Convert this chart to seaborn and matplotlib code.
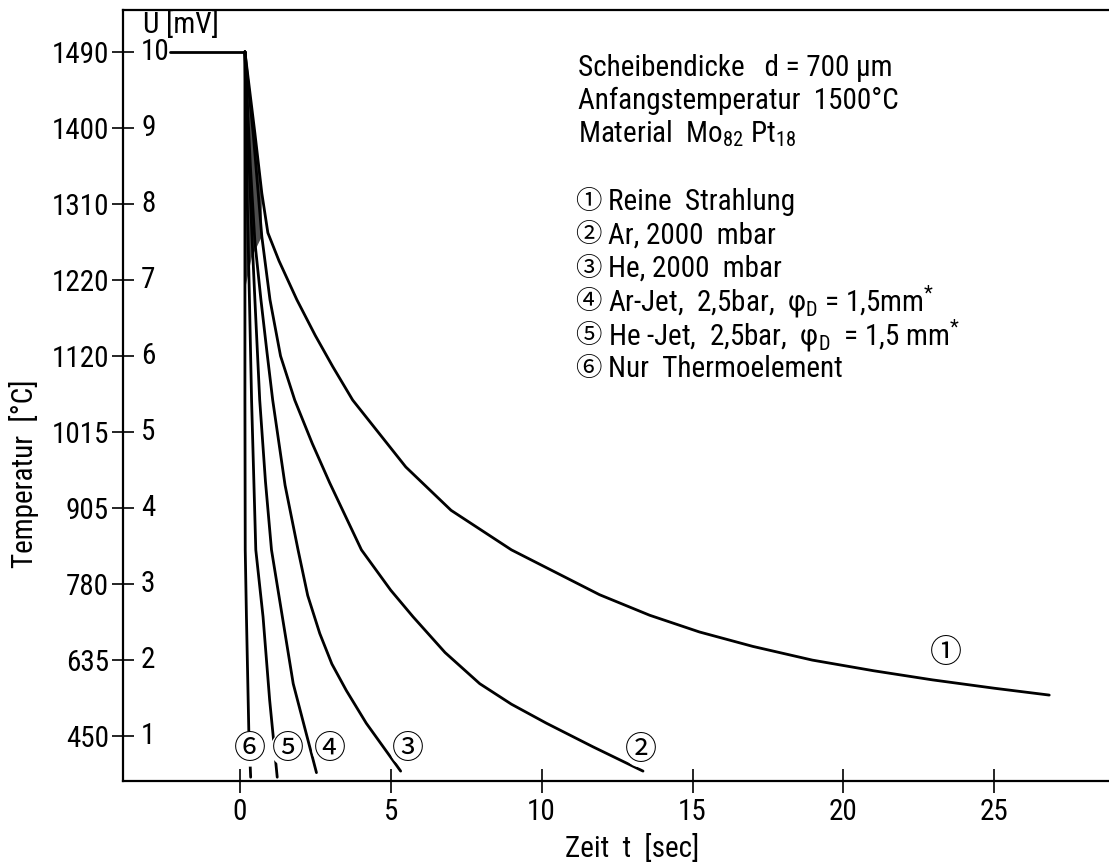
import numpy as np
import pandas as pd
import matplotlib
matplotlib.use("Agg")
import matplotlib.pyplot as plt
import seaborn as sns
from matplotlib import font_manager

# ---- data: thermocouple voltage U [mV] over time t [s] ----
plateau_t = [-2.32, 0.17]
plateau_mv = [10.0, 10.0]

curve1_t = [0.17, 0.50, 0.73, 0.93, 1.30, 1.89, 2.50, 3.08, 3.74, 5.50, 7.00, 9.00,
            11.92, 13.58, 15.23, 17.00, 18.97, 21.00, 22.95, 25.00, 26.82]
curve1_mv = [10.0, 8.93, 8.14, 7.62, 7.25, 6.74, 6.27, 5.86, 5.42, 4.54, 3.97, 3.45,
             2.86, 2.59, 2.37, 2.18, 2.00, 1.86, 1.74, 1.63, 1.54]

curve2_t = [0.17, 0.45, 0.73, 1.00, 1.35, 1.82, 2.40, 2.98, 4.03, 5.00, 5.74, 6.80,
            7.95, 9.00, 10.16, 11.70, 13.36]
curve2_mv = [10.0, 8.90, 7.57, 6.74, 6.00, 5.42, 4.85, 4.33, 3.45, 2.92, 2.57, 2.10,
             1.69, 1.42, 1.17, 0.86, 0.54]

curve3_t = [0.17, 0.35, 0.50, 0.70, 0.90, 1.09, 1.50, 1.93, 2.25, 2.65, 3.05, 3.53, 4.19, 5.33]
curve3_mv = [10.0, 8.50, 7.50, 6.74, 6.05, 5.42, 4.30, 3.45, 2.85, 2.35, 1.95, 1.60, 1.17, 0.54]

curve4_t = [0.17, 0.30, 0.40, 0.50, 0.66, 0.85, 1.05, 1.32, 1.77, 2.54]
curve4_mv = [10.0, 8.60, 7.60, 6.74, 5.42, 4.35, 3.45, 2.79, 1.69, 0.52]

curve5_t = [0.17, 0.25, 0.32, 0.39, 0.53, 0.77, 0.99, 1.24]
curve5_mv = [10.0, 8.00, 6.74, 5.42, 3.45, 2.57, 1.47, 0.46]

curve6_t = [0.17, 0.17, 0.17, 0.18, 0.22, 0.30, 0.36]
curve6_mv = [10.0, 7.57, 5.42, 3.45, 2.57, 1.04, 0.46]

# outline of the dense, shaded bundle just after the drop starts
wedge_t = [0.17, 0.17, 0.40, 0.73, 0.73, 0.50, 0.17]
wedge_mv = [10.0, 6.87, 7.30, 7.57, 8.14, 8.93, 10.0]

curve_ids = ["①", "②", "③", "④", "⑤", "⑥"]
curve_label_t = [23.4, 13.3, 5.56, 2.98, 1.59, 0.33]
curve_label_mv = [2.10, 0.82, 0.83, 0.83, 0.83, 0.83]

mv_ticks = [1, 2, 3, 4, 5, 6, 7, 8, 9, 10]
temp_ticklabels = ["450", "635", "780", "905", "1015", "1120", "1220", "1310", "1400", "1490"]
time_ticks = [0, 5, 10, 15, 20, 25]

header_lines = ["Scheibendicke   d = 700 µm",
                "Anfangstemperatur  1500°C",
                "Material  Mo$_{82}$ Pt$_{18}$"]
legend_lines = ["Reine  Strahlung",
                "Ar, 2000  mbar",
                "He, 2000  mbar",
                "Ar-Jet,  2,5bar,  φ$_{D}$ = 1,5mm$^{*}$",
                "He -Jet,  2,5bar,  φ$_{D}$  = 1,5 mm$^{*}$",
                "Nur  Thermoelement"]

# ---- style: pick a narrow sans face if one is installed ----
sns.set_theme(style="white")
entries = font_manager.fontManager.ttflist
fam_names = {f.name for f in entries}
main_font, stretch, FS = None, "normal", 18
for cand in ["Liberation Sans Narrow", "Roboto Condensed", "Open Sans Condensed",
             "Noto Sans Condensed", "DejaVu Sans Condensed"]:
    if cand in fam_names:
        main_font, FS = cand, 21
        break
if main_font is None:
    for fam in ["Noto Sans", "DejaVu Sans", "Open Sans", "Roboto"]:
        if any(f.name == fam and "condensed" in str(f.stretch) for f in entries):
            main_font, stretch, FS = fam, "condensed", 19.5
            break
if main_font is None:
    main_font = "DejaVu Sans"

plt.rcParams["font.family"] = [main_font, "Noto Sans CJK JP", "DejaVu Sans"]
plt.rcParams["font.stretch"] = stretch
plt.rcParams["text.color"] = "black"
plt.rcParams["axes.labelcolor"] = "black"
plt.rcParams["mathtext.fontset"] = "custom"
plt.rcParams["mathtext.rm"] = main_font
plt.rcParams["mathtext.it"] = main_font
plt.rcParams["mathtext.default"] = "regular"

W, H = 1109, 864

def fx(px):
    return px / W

def fy(py):
    return 1 - py / H

fig = plt.figure(figsize=(W / 100, H / 100), dpi=100)
ax = fig.add_axes([fx(123), fy(781), 1 - fx(123), (781 - 10) / H])

ax.fill(wedge_t, wedge_mv, color="#4d4d4d", lw=0)

lw = 2.0
sns.lineplot(x=plateau_t, y=plateau_mv, ax=ax, color="black", lw=lw, sort=False, estimator=None)
for ct, cm in [(curve1_t, curve1_mv), (curve2_t, curve2_mv), (curve3_t, curve3_mv),
               (curve4_t, curve4_mv), (curve5_t, curve5_mv), (curve6_t, curve6_mv)]:
    sns.lineplot(x=ct, y=cm, ax=ax, color="black", lw=lw, sort=False, estimator=None)

# circled curve numbers; the white disc breaks the line behind them
for cid, lt, lm in zip(curve_ids, curve_label_t, curve_label_mv):
    ax.text(lt, lm, cid, fontsize=23, ha="center", va="center", color="black",
            bbox=dict(boxstyle="circle,pad=0.05", fc="white", ec="none"), zorder=5)

ax.set_xlim(-3.87, 28.8)
ax.set_ylim(0.41, 10.55)

ax.set_yticks(mv_ticks)
ax.set_yticklabels(temp_ticklabels)
ax.set_xticks(time_ticks)
ax.set_xticklabels([str(t) for t in time_ticks])
ax.tick_params(axis="y", direction="inout", length=16, width=1.2, pad=2,
               labelsize=FS, colors="black", left=True)
ax.tick_params(axis="x", direction="inout", length=17, width=1.2, pad=4,
               labelsize=FS, colors="black", bottom=True)

# inner millivolt scale next to the spine
for v in mv_ticks:
    ax.annotate(str(v), xy=(0, v), xycoords=ax.get_yaxis_transform(),
                xytext=(13, 0), textcoords="offset points",
                ha="left", va="center", fontsize=FS, color="black")

for side in ["left", "top", "bottom"]:
    ax.spines[side].set_visible(True)
    ax.spines[side].set_color("black")
    ax.spines[side].set_linewidth(1.6)
ax.spines["right"].set_visible(False)
ax.grid(False)

ax.set_xlabel("Zeit  t  [sec]", fontsize=FS)
ax.xaxis.set_label_coords((632 - 123) / 986, (781 - 848) / 771)
ax.xaxis.label.set_va("center")
ax.set_ylabel("Temperatur  [°C]", fontsize=FS)
ax.yaxis.set_label_coords((24 - 123) / 986, (781 - 474) / 771)
ax.yaxis.label.set_va("center")

fig.text(fx(143), fy(25), "U [mV]", fontsize=FS, ha="left", va="center")

for i, line in enumerate(header_lines):
    fig.text(fx(578), fy(68 + 33 * i), line, fontsize=FS, ha="left", va="center")
for i, (cid, line) in enumerate(zip(curve_ids, legend_lines)):
    y = 202 + 33.4 * i
    fig.text(fx(575), fy(y), cid, fontsize=FS - 2, ha="left", va="center")
    fig.text(fx(608), fy(y), line, fontsize=FS, ha="left", va="center")

fig.savefig("out.png", dpi=100, facecolor="white")
